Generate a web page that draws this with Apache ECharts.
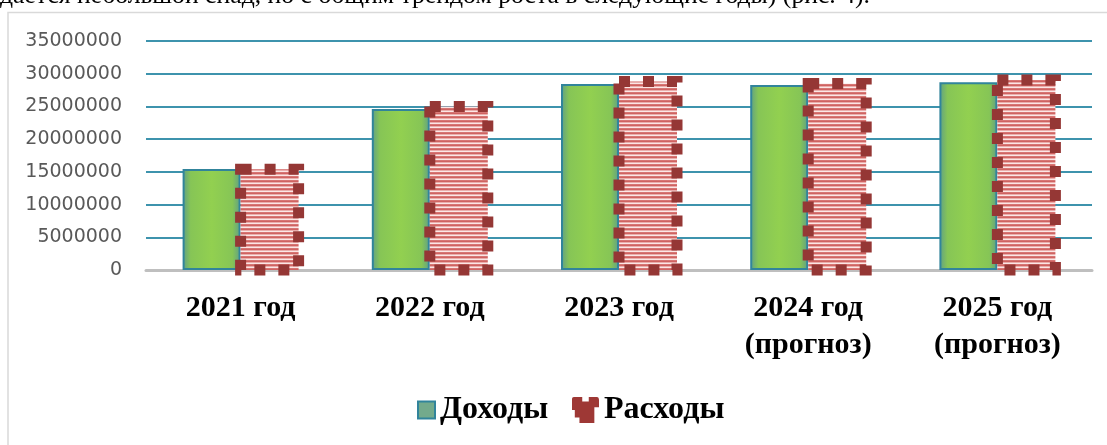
<!DOCTYPE html>
<html>
<head>
<meta charset="utf-8">
<script src="https://cdn.jsdelivr.net/npm/echarts@6/dist/echarts.min.js"></script>
<style>
  html, body { margin: 0; padding: 0; background: #fff; }
  #chart { width: 1107px; height: 445px; }
</style>
</head>
<body>
<div id="chart"></div>
<script>
// Годы (подписи оси категорий)
const categories = ['2021 год', '2022 год', '2023 год', '2024 год\n(прогноз)', '2025 год\n(прогноз)'];
// Доходы бюджета по годам
const incomeValues = [15450000, 24600000, 28430000, 28280000, 28700000];
// Расходы бюджета по годам
const expenseValues = [15400000, 25000000, 28800000, 28500000, 29050000];
// Шкала значений
const yTicks = { min: 0, max: 35000000, interval: 5000000 };
const seriesNames = ['Доходы', 'Расходы'];
const captionText = 'дается небольшой спад, но с общим трендом роста в следующие годы) (рис. 4).';

const BAR_W = 58;

// Полосатая заливка для столбцов расходов
function stripePattern() {
  const c = document.createElement('canvas');
  c.width = 4; c.height = 4;
  const g = c.getContext('2d');
  const rows = ['#d77674', '#cf6361', '#eaaeac', '#fbe6e5'];
  rows.forEach((col, i) => { g.fillStyle = col; g.fillRect(0, i, 4, 1); });
  return { image: c, repeat: 'repeat' };
}

const greenFill = new echarts.graphic.LinearGradient(0, 0, 1, 0, [
  { offset: 0, color: '#5f9f86' },
  { offset: 0.14, color: '#86c556' },
  { offset: 0.5, color: '#92d050' },
  { offset: 0.86, color: '#86c556' },
  { offset: 1, color: '#5f9f86' }
]);

const serifFont = '"Liberation Serif", "Times New Roman", serif';
const legendText = { fontFamily: serifFont, fontWeight: 'bold', fontSize: 32, color: '#000' };

const chart = echarts.init(document.getElementById('chart'));
chart.setOption({
  animation: false,
  backgroundColor: '#ffffff',
  graphic: [
    {
      type: 'rect',
      shape: { x: 8, y: 12.5, width: 1200, height: 500 },
      style: { fill: 'none', stroke: '#d9d9d9', lineWidth: 1.5 },
      z: -1
    },
    {
      type: 'text',
      x: 0, y: 9,
      style: {
        text: captionText,
        font: '25.7px ' + serifFont,
        fill: '#000',
        verticalAlign: 'bottom'
      }
    }
  ],
  grid: { left: 146, right: 15, top: 41, bottom: 175, containLabel: false },
  legend: [
    {
      left: 417,
      top: 394,
      padding: 0,
      itemWidth: 17,
      itemHeight: 17,
      textStyle: legendText,
      data: [{
        name: seriesNames[0],
        icon: 'rect',
        itemStyle: { color: '#73aa8c', borderColor: '#31849b', borderWidth: 2 }
      }]
    },
    {
      left: 572,
      top: 394,
      padding: 0,
      itemWidth: 27,
      itemHeight: 28,
      textStyle: legendText,
      data: [{
        name: seriesNames[1],
        icon: 'path://M0,2Q0,0 2,0H11V5H18V0H27Q29,0 29,3V11H24V28H8V22H3V14H0Z',
        itemStyle: { color: '#9e3835', borderWidth: 0 }
      }]
    }
  ],
  xAxis: {
    type: 'category',
    data: categories,
    axisLine: { lineStyle: { color: '#bfbfbf', width: 3 } },
    axisTick: { show: false },
    axisLabel: {
      margin: 20,
      interval: 0,
      fontFamily: serifFont,
      fontWeight: 'bold',
      fontSize: 30,
      lineHeight: 37,
      color: '#000'
    }
  },
  yAxis: {
    type: 'value',
    min: yTicks.min,
    max: yTicks.max,
    interval: yTicks.interval,
    axisLine: { show: false },
    axisTick: { show: false },
    splitLine: { lineStyle: { color: '#3d93ad', width: 2 } },
    axisLabel: {
      margin: 24,
      fontFamily: '"DejaVu Sans", sans-serif',
      fontSize: 19,
      color: '#595959',
      formatter: v => String(v)
    }
  },
  series: [
    {
      name: seriesNames[0],
      type: 'bar',
      data: incomeValues,
      barWidth: BAR_W,
      barGap: '0%',
      itemStyle: { color: greenFill, borderColor: '#31849b', borderWidth: 2 }
    },
    {
      name: seriesNames[1],
      type: 'bar',
      data: expenseValues,
      barWidth: BAR_W,
      itemStyle: { color: stripePattern(), borderWidth: 0 }
    },
    {
      // Пунктирная рамка столбцов расходов поверх заливки
      type: 'custom',
      data: expenseValues.map((v, i) => [i, v]),
      encode: { x: 0, y: 1 },
      z: 3,
      silent: true,
      renderItem(params, api) {
        const top = api.coord([api.value(0), api.value(1)]);
        const base = api.coord([api.value(0), 0]);
        return {
          type: 'rect',
          shape: { x: top[0], y: top[1], width: BAR_W, height: base[1] - top[1] },
          style: { fill: 'none', stroke: '#953735', lineWidth: 11, lineDash: [11, 13] }
        };
      }
    }
  ]
});
</script>
</body>
</html>
